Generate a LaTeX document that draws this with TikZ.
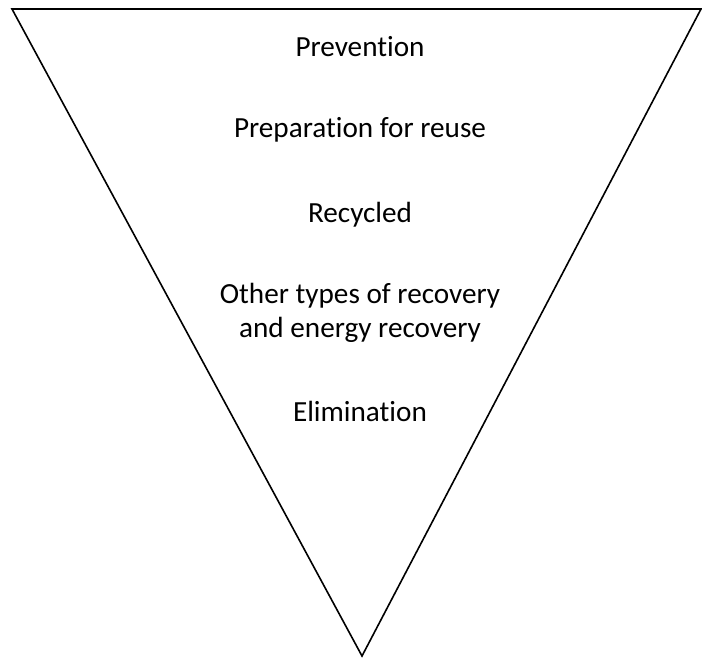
\documentclass[tikz,border=0pt]{standalone}
\usepackage{fontspec}
\setmainfont{Carlito}[RawFeature={-liga;-clig;-dlig;-calt;-rlig}]
\begin{document}
\begin{tikzpicture}[x=1pt,y=-1pt,
  lbl/.style={anchor=base,align=center,inner sep=0pt,font=\fontsize{29.2}{34.5}\selectfont},
  edge/.style={line width=1.6pt,line join=miter}]
\useasboundingbox (0,0) rectangle (702,657);
\coordinate (tl) at (12,9);
\coordinate (tr) at (701,9);
\coordinate (ap) at (362,656);
\draw[edge] (tl) -- (tr) -- (ap) -- cycle;
\node[lbl] (p1) at (360,56) {Prevent\kern0pt ion};
\node[lbl] (p2) at (360,137.5) {Preparat\kern0pt ion for reuse};
\node[lbl] (p3) at (360,222) {Recycled};
\node[lbl] (p4) at (360,337.5) {Other types of recovery\\and energy recovery};
\node[lbl] (p5) at (360,421) {Eliminat\kern0pt ion};
\end{tikzpicture}
\end{document}
